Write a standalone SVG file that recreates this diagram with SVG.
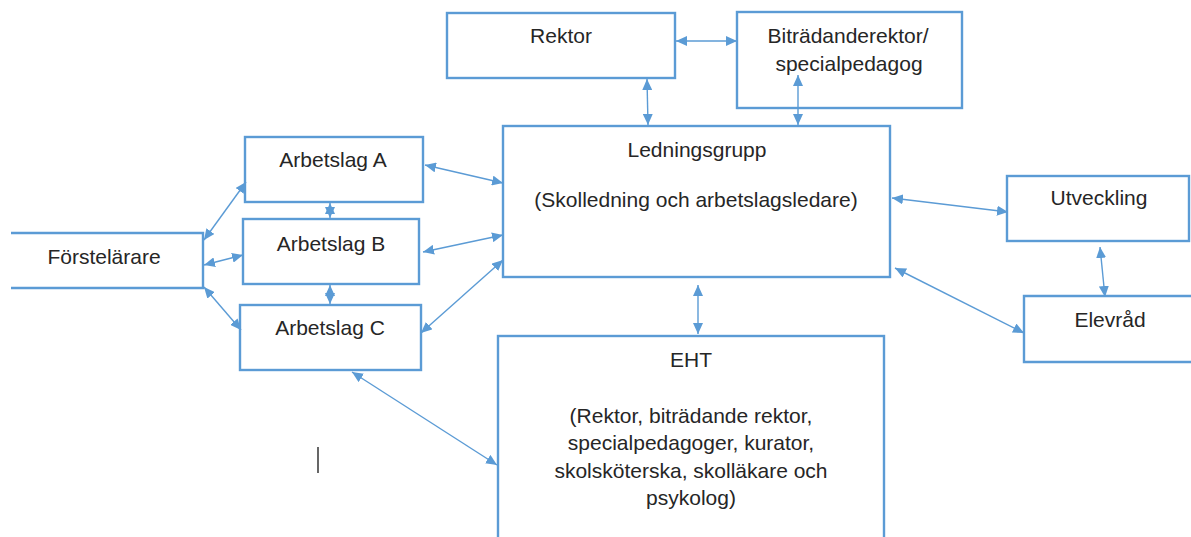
<svg xmlns="http://www.w3.org/2000/svg" width="1191" height="537" viewBox="0 0 1191 537">
  <style>
    .box { fill: #ffffff; stroke: #5B9BD5; stroke-width: 2.4; }
    .open { fill: none; stroke: #5B9BD5; stroke-width: 2.4; }
    .lbl { font-family: "Liberation Sans", Arial, sans-serif; font-size: 21px; fill: #262626; text-anchor: middle; }
    .conn line { stroke: #5B9BD5; stroke-width: 1.4; marker-start: url(#ah); marker-end: url(#ah); }
  </style>
  <defs>
    <marker id="ah" viewBox="0 0 11 10" refX="11" refY="5" markerWidth="11" markerHeight="10" markerUnits="userSpaceOnUse" orient="auto-start-reverse">
      <path d="M0,0 L11,5 L0,10 z" fill="#5B9BD5"/>
    </marker>
  </defs>
  <rect width="1191" height="537" fill="#ffffff"/>

  <g id="rektor">
    <rect class="box" x="447" y="13" width="228" height="65"/>
    <text class="lbl" x="561" y="43">Rektor</text>
  </g>
  <g id="bitradande">
    <rect class="box" x="737" y="12" width="225" height="96"/>
    <text class="lbl" x="848" y="43">Biträdanderektor/</text>
    <text class="lbl" x="849" y="71">specialpedagog</text>
  </g>
  <g id="ledningsgrupp">
    <rect class="box" x="503" y="126" width="387" height="151"/>
    <text class="lbl" x="697" y="157">Ledningsgrupp</text>
    <text class="lbl" x="696" y="207">(Skolledning och arbetslagsledare)</text>
  </g>
  <g id="eht">
    <rect class="box" x="498" y="336" width="386" height="220"/>
    <text class="lbl" x="691" y="367">EHT</text>
    <text class="lbl" x="691" y="423">(Rektor, biträdande rektor,</text>
    <text class="lbl" x="691" y="450">specialpedagoger, kurator,</text>
    <text class="lbl" x="691" y="478">skolsköterska, skolläkare och</text>
    <text class="lbl" x="691" y="505">psykolog)</text>
  </g>
  <g id="arbetslagA">
    <rect class="box" x="245" y="137" width="178" height="65"/>
    <text class="lbl" x="333" y="167">Arbetslag A</text>
  </g>
  <g id="arbetslagB">
    <rect class="box" x="243" y="219" width="176" height="65"/>
    <text class="lbl" x="331" y="251">Arbetslag B</text>
  </g>
  <g id="arbetslagC">
    <rect class="box" x="240" y="305" width="181" height="65"/>
    <text class="lbl" x="330" y="335">Arbetslag C</text>
  </g>
  <g id="forstelarare">
    <path class="open" d="M11,233 H203 V288 H11"/>
    <text class="lbl" x="104" y="264">Förstelärare</text>
  </g>
  <g id="utveckling">
    <rect class="box" x="1007" y="176" width="182" height="65"/>
    <text class="lbl" x="1099" y="205">Utveckling</text>
  </g>
  <g id="elevrad">
    <path class="open" d="M1195,296 H1024 V362 H1195"/>
    <text class="lbl" x="1110" y="327">Elevråd</text>
  </g>

  <g id="connectors" class="conn">
    <line x1="676" y1="41" x2="737" y2="41"/>
    <line x1="647" y1="79" x2="648" y2="125"/>
    <line x1="798" y1="75" x2="798" y2="125"/>
    <line x1="892" y1="198" x2="1008" y2="212"/>
    <line x1="895" y1="268" x2="1024" y2="333"/>
    <line x1="1100" y1="247" x2="1105" y2="297"/>
    <line x1="698" y1="285" x2="698" y2="334"/>
    <line x1="425" y1="165" x2="503" y2="183"/>
    <line x1="423" y1="252" x2="503" y2="235"/>
    <line x1="421" y1="333" x2="503" y2="260"/>
    <line x1="352" y1="372" x2="497" y2="465"/>
    <line x1="204" y1="240" x2="246" y2="182"/>
    <line x1="204" y1="265" x2="243" y2="255"/>
    <line x1="204" y1="287" x2="241" y2="330"/>
    <line x1="330" y1="203" x2="330" y2="218"/>
    <line x1="330" y1="285" x2="330" y2="304"/>
  </g>
  <line x1="318" y1="447" x2="318" y2="473" stroke="#000000" stroke-width="1.2"/>
</svg>
